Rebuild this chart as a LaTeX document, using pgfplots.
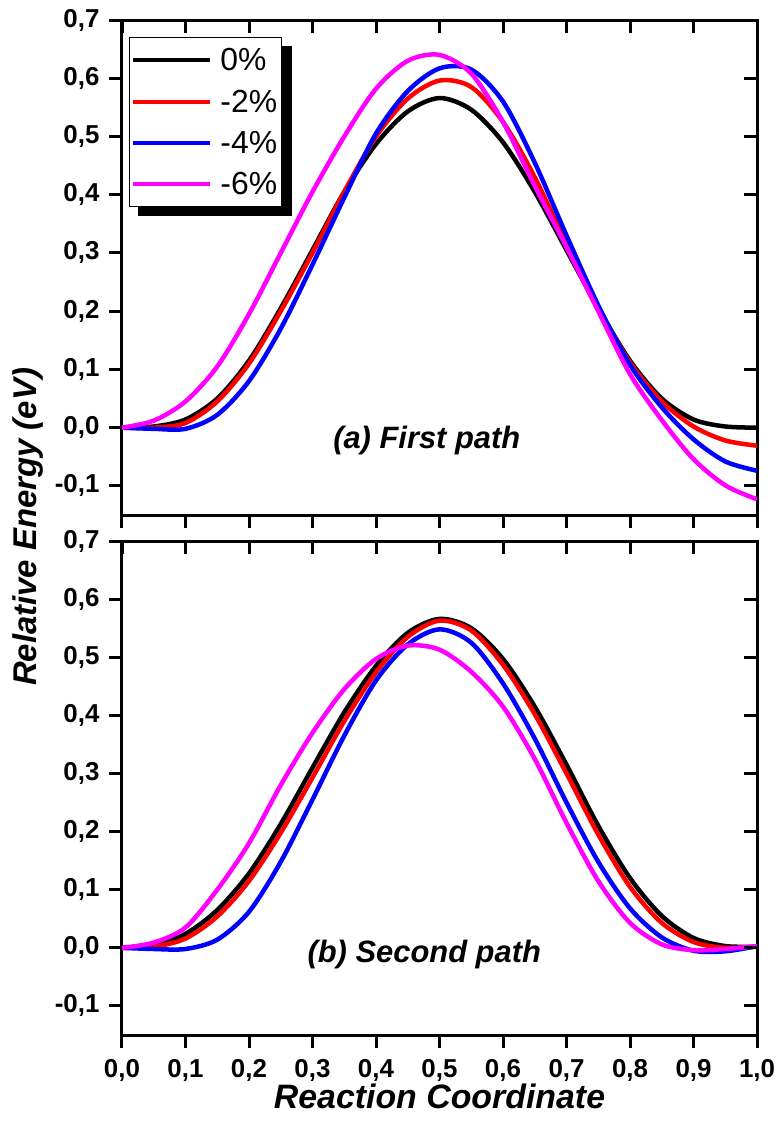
\documentclass[border=0pt]{standalone}
\usepackage{pgfplots}
\pgfplotsset{compat=1.18}
\usepackage{pgfplotstable}
\usepackage{fontspec}
\setmainfont{Liberation Sans}

\definecolor{cblack}{RGB}{0,0,0}
\definecolor{cred}{RGB}{255,0,0}
\definecolor{cblue}{RGB}{0,0,255}
\definecolor{cmag}{RGB}{255,0,255}

\pgfplotstableread{
x     a0     a2     a4     a6
0.00  0.000  0.000  0.000  0.000
0.05  0.002  0.000 -0.002  0.012
0.10  0.014  0.008 -0.002  0.045
0.15  0.050  0.045  0.022  0.105
0.20  0.115  0.110  0.080  0.195
0.25  0.205  0.200  0.170  0.300
0.30  0.305  0.300  0.280  0.405
0.35  0.405  0.405  0.395  0.500
0.40  0.487  0.500  0.505  0.582
0.45  0.543  0.565  0.578  0.630
0.50  0.566  0.596  0.617  0.640
0.55  0.546  0.585  0.615  0.608
0.60  0.490  0.525  0.560  0.525
0.65  0.405  0.430  0.455  0.415
0.70  0.305  0.315  0.330  0.310
0.75  0.205  0.205  0.210  0.200
0.80  0.115  0.112  0.108  0.092
0.85  0.050  0.045  0.035  0.013
0.90  0.014  0.002 -0.020 -0.054
0.95  0.002 -0.022 -0.058 -0.099
1.00  0.000 -0.031 -0.074 -0.123
}\pathA

\pgfplotstableread{
x     b0     b2     b4     b6
0.00  0.000  0.000  0.000  0.000
0.05  0.004  0.002 -0.002  0.009
0.10  0.024  0.016 -0.002  0.035
0.15  0.065  0.054  0.014  0.100
0.20  0.128  0.115  0.062  0.180
0.25  0.213  0.198  0.148  0.280
0.30  0.310  0.293  0.255  0.370
0.35  0.405  0.390  0.365  0.445
0.40  0.485  0.474  0.460  0.497
0.45  0.542  0.535  0.522  0.520
0.50  0.566  0.563  0.548  0.513
0.55  0.550  0.546  0.525  0.475
0.60  0.497  0.487  0.455  0.415
0.65  0.415  0.402  0.360  0.325
0.70  0.315  0.300  0.250  0.215
0.75  0.210  0.195  0.148  0.115
0.80  0.120  0.105  0.068  0.043
0.85  0.055  0.043  0.018  0.006
0.90  0.017  0.010 -0.005 -0.004
0.95  0.003  0.000 -0.006 -0.002
1.00  0.002  0.002  0.003  0.003
}\pathB

\pgfplotsset{
  base/.style={
    scale only axis, width=635bp,
    xmin=0, xmax=1, ymin=-0.15, ymax=0.7,
    xtick={0,0.1,0.2,0.3,0.4,0.5,0.6,0.7,0.8,0.9,1},
    ytick={-0.1,0,0.1,0.2,0.3,0.4,0.5,0.6,0.7},
    axis line style={line width=3bp},
    major tick length=13bp,
    every tick/.style={black, line width=3bp},
    ticklabel style={font=\fontsize{26}{30}\selectfont\bfseries},
    xticklabel style={inner sep=1bp, yshift=-10bp, /pgf/number format/.cd, fixed, fixed zerofill, precision=1, use comma, assume math mode=true},
    yticklabel style={xshift=-6bp, /pgf/number format/.cd, fixed, fixed zerofill, precision=1, use comma, assume math mode=true},
  },
  main/.style={base, tick align=outside, xtick pos=left, ytick pos=left},
  over/.style={base, tick align=inside, xtick pos=right, ytick pos=right,
    xticklabels={}, yticklabels={}, axis line style={draw=none}},
  curve/.style={line width=4.5bp, smooth},
}

\begin{document}
\begin{tikzpicture}
\useasboundingbox (-122bp,20bp) rectangle (657bp,-1104bp);

% legend shadow
\fill[black] (16bp,-26bp) rectangle (170bp,-196bp);

% ---------- top panel ----------
\begin{axis}[main, at={(0bp,0bp)}, anchor=north west, height=495bp,
  xticklabels={},
  ylabel={Relative Energy (eV)},
  ylabel style={font=\fontsize{33}{40}\selectfont\bfseries\itshape, at={(axis description cs:-0.148,-0.024)}, anchor=center},
  legend style={at={(0,1)}, anchor=north west, xshift=7bp, yshift=-17bp,
    draw=black, line width=1bp, fill=white,
    font=\fontsize{32}{38}\selectfont, legend cell align=left,
    inner xsep=2bp, inner ysep=9bp, row sep=13.5bp,
    nodes={inner sep=2bp},
    /tikz/every odd column/.append style={column sep=6bp}},
  legend image code/.code={\draw[#1, line width=4bp] (0bp,0bp) -- (77bp,0bp);},
]
\addplot[curve, cblack] table[x=x, y=a0]{\pathA};
\addplot[curve, cred] table[x=x, y=a2]{\pathA};
\addplot[curve, cblue] table[x=x, y=a4]{\pathA};
\addplot[curve, cmag] table[x=x, y=a6]{\pathA};
\legend{0\%, -2\%, -4\%, -6\%}
\node[font=\fontsize{31}{36}\selectfont\bfseries\itshape] at (axis cs:0.48,-0.022) {(a) First path};
\end{axis}
\begin{axis}[over, at={(0bp,0bp)}, anchor=north west, height=495bp]
\end{axis}

% ---------- bottom panel ----------
\begin{axis}[main, at={(0bp,-521bp)}, anchor=north west, height=494bp,
  xlabel={Reaction Coordinate},
  xlabel style={font=\fontsize{34}{40}\selectfont\bfseries\itshape, inner sep=0pt, at={(axis description cs:0.5,-0.124)}, anchor=center},
]
\addplot[curve, cblack] table[x=x, y=b0]{\pathB};
\addplot[curve, cred] table[x=x, y=b2]{\pathB};
\addplot[curve, cblue] table[x=x, y=b4]{\pathB};
\addplot[curve, cmag] table[x=x, y=b6]{\pathB};
\node[font=\fontsize{31}{36}\selectfont\bfseries\itshape] at (axis cs:0.476,-0.012) {(b) Second path};
\end{axis}
\begin{axis}[over, at={(0bp,-521bp)}, anchor=north west, height=494bp]
\end{axis}
\end{tikzpicture}
\end{document}
